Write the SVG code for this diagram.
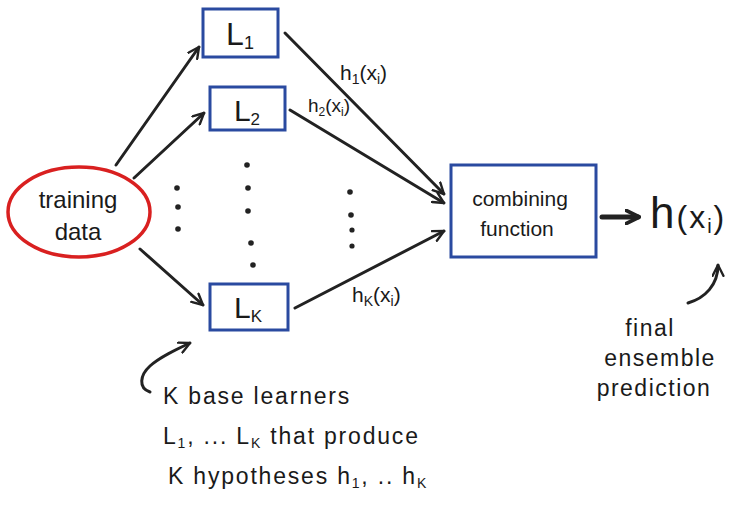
<svg xmlns="http://www.w3.org/2000/svg" width="737" height="508" viewBox="0 0 737 508">
<defs>
<marker id="ah" viewBox="0 0 12 12" refX="11" refY="6" markerWidth="13" markerHeight="13" markerUnits="userSpaceOnUse" orient="auto">
<path d="M1,1 L11,6 L1,11" fill="none" stroke="#222" stroke-width="2.2" stroke-linecap="round" stroke-linejoin="round"/>
</marker>
<marker id="ahb" viewBox="0 0 12 12" refX="10" refY="6" markerWidth="16" markerHeight="16" markerUnits="userSpaceOnUse" orient="auto">
<path d="M1,1 L11,6 L1,11" fill="none" stroke="#222" stroke-width="2.8" stroke-linecap="round" stroke-linejoin="round"/>
</marker>
</defs>
<style>
.box{fill:#fff;stroke:#2a4aa0;stroke-width:3}
.con{fill:none;stroke:#222;stroke-width:3;stroke-linecap:round}
.t{font-family:"Liberation Sans",Arial,sans-serif;fill:#1a1a1a}
.dot{fill:#222}
</style>
<rect width="737" height="508" fill="#fff"/>
<g id="connectors">
<line class="con" x1="116" y1="165" x2="199" y2="47" marker-end="url(#ah)"/>
<line class="con" x1="134" y1="178" x2="204" y2="113" marker-end="url(#ah)"/>
<line class="con" x1="140" y1="249" x2="203" y2="305" marker-end="url(#ah)"/>
<line class="con" x1="285" y1="33" x2="444" y2="194" marker-end="url(#ah)"/>
<line class="con" x1="290" y1="110" x2="444" y2="203" marker-end="url(#ah)"/>
<line class="con" x1="295" y1="308" x2="444" y2="231" marker-end="url(#ah)"/>
<line x1="602" y1="217" x2="638" y2="217" stroke="#222" stroke-width="5" stroke-linecap="round" marker-end="url(#ahb)"/>
<path class="con" d="M150,392 C138,388 140,375 150,366 C160,357 175,350 190,343" marker-end="url(#ah)" stroke-width="2.2"/>
<path class="con" d="M688,303 C705,298 718,285 718,265" marker-end="url(#ah)" stroke-width="2.2"/>
</g>
<g id="training-data">
<ellipse cx="79" cy="212" rx="71" ry="45" fill="#fff" stroke="#d92020" stroke-width="3.5"/>
<text class="t" x="78" y="208" font-size="24" text-anchor="middle">training</text>
<text class="t" x="78" y="240" font-size="24" text-anchor="middle">data</text>
</g>
<g id="L1">
<rect class="box" x="203" y="9" width="75" height="48"/>
<text class="t" x="240" y="45" font-size="32" text-anchor="middle">L<tspan font-size="18" dy="4">1</tspan></text>
</g>
<g id="L2">
<rect class="box" x="210" y="87" width="75" height="43"/>
<text class="t" x="247" y="121" font-size="30" text-anchor="middle">L<tspan font-size="17" dy="4">2</tspan></text>
</g>
<g id="LK">
<rect class="box" x="210" y="284" width="78" height="46"/>
<text class="t" x="248" y="318" font-size="30" text-anchor="middle">L<tspan font-size="17" dy="4">K</tspan></text>
</g>
<g id="combining">
<rect class="box" x="451" y="165" width="145" height="92"/>
<text class="t" x="520" y="206" font-size="21" text-anchor="middle">combining</text>
<text class="t" x="517" y="236" font-size="21" text-anchor="middle">function</text>
</g>
<g id="dots">
<circle class="dot" cx="177" cy="188" r="2.8"/>
<circle class="dot" cx="178" cy="207" r="2.8"/>
<circle class="dot" cx="178" cy="229" r="2.8"/>
<circle class="dot" cx="247" cy="165" r="2.8"/>
<circle class="dot" cx="248" cy="188" r="2.8"/>
<circle class="dot" cx="248" cy="211" r="2.8"/>
<circle class="dot" cx="251" cy="243" r="2.8"/>
<circle class="dot" cx="253" cy="265" r="2.8"/>
<circle class="dot" cx="350" cy="192" r="2.8"/>
<circle class="dot" cx="351" cy="215" r="2.8"/>
<circle class="dot" cx="352" cy="230" r="2.6"/>
<circle class="dot" cx="352" cy="246" r="2.6"/>
</g>
<g id="labels">
<text class="t" x="340" y="80" font-size="21">h<tspan font-size="14" dy="4">1</tspan><tspan dy="-4">(x</tspan><tspan font-size="14" dy="4">i</tspan><tspan dy="-4">)</tspan></text>
<text class="t" x="308" y="112" font-size="19">h<tspan font-size="12" dy="4">2</tspan><tspan dy="-4">(x</tspan><tspan font-size="12" dy="4">i</tspan><tspan dy="-4">)</tspan></text>
<text class="t" x="352" y="302" font-size="21">h<tspan font-size="14" dy="4">K</tspan><tspan dy="-4">(x</tspan><tspan font-size="14" dy="4">i</tspan><tspan dy="-4">)</tspan></text>
<text class="t" x="650" y="228" font-size="44" letter-spacing="2">h<tspan font-size="32">(x</tspan><tspan font-size="20" dy="5">i</tspan><tspan font-size="32" dy="-5">)</tspan></text>
<text class="t" x="163" y="404" font-size="23" letter-spacing="1.8">K  base learners</text>
<text class="t" x="163" y="444" font-size="23" letter-spacing="1.8">L<tspan font-size="14" dy="4">1</tspan><tspan dy="-4">, ... L</tspan><tspan font-size="14" dy="4">K</tspan><tspan dy="-4"> that produce</tspan></text>
<text class="t" x="168" y="484" font-size="23" letter-spacing="1.8">K  hypotheses  h<tspan font-size="14" dy="4">1</tspan><tspan dy="-4">, .. h</tspan><tspan font-size="14" dy="4">K</tspan></text>
<text class="t" x="650" y="336" font-size="23" letter-spacing="1.5" text-anchor="middle">final</text>
<text class="t" x="660" y="366" font-size="23" letter-spacing="1.5" text-anchor="middle">ensemble</text>
<text class="t" x="654" y="396" font-size="23" letter-spacing="1.5" text-anchor="middle">prediction</text>
</g>
</svg>
